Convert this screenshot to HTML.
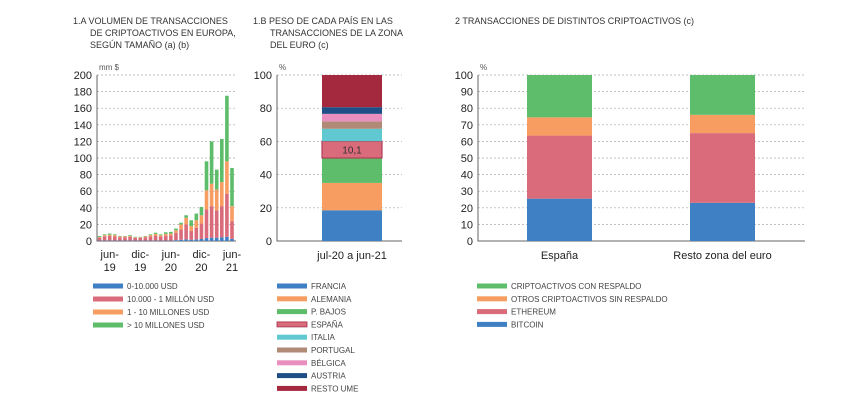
<!DOCTYPE html>
<html><head><meta charset="utf-8"><style>
body{margin:0;background:#fff;font-family:"Liberation Sans",sans-serif;}
svg text{font-family:"Liberation Sans",sans-serif;}
</style></head><body>
<svg width="850" height="415" viewBox="0 0 850 415" xmlns="http://www.w3.org/2000/svg">
<g id="titles" font-size="9" fill="#333">
<text x="73" y="24">1.A  VOLUMEN DE TRANSACCIONES</text>
<text x="90" y="36">DE CRIPTOACTIVOS EN EUROPA,</text>
<text x="90" y="48">SEGÚN TAMAÑO (a) (b)</text>
<text x="253" y="24">1.B  PESO DE CADA PAÍS EN LAS</text>
<text x="270" y="36">TRANSACCIONES DE LA ZONA</text>
<text x="270" y="48">DEL EURO (c)</text>
<text x="455" y="24">2  TRANSACCIONES DE DISTINTOS CRIPTOACTIVOS (c)</text>
</g>
<g id="c1"></g><g id="c2"></g><g id="c3"></g><g id="leg"></g>
</svg>
<script>
// Chart 1A data (mm $), monthly apr-19 .. jun-21
const c1Blue  =[0.5,0.5,0.5,0.5,0.5,0.5,0.5,0.5,0.5,0.5,0.5,0.5,0.5,0.5,0.5,1,1.5,2,1.5,2,2.5,3.5,4,4,4.5,5,2.5];
const c1Red   =[3.5,5,5.5,5,4,4,4.5,3.5,3.5,4,5,6,5,6,6.5,9,12.5,18,10.5,14,18.5,34.5,38,33,37.5,52,21.5];
const c1Orange=[1,1.5,1.5,1.5,1,1,1,0.5,0.5,1,1.5,2,1.5,2,2,3,6,8,6,9,10,23,27,25,29,39,18];
const c1Green =[1,1,1.5,1,0.5,0.5,1,0.5,0.5,0.5,1,1.5,1,2,2,2,2,3,7,8,10,35,51,24,52,79,46];
const c1Ticks=[0,20,40,60,80,100,120,140,160,180,200];
const c1XLabels=[["jun-",2],["dic-",8],["jun-",14],["dic-",20],["jun-",26]];
const c1XYears=["19","19","20","20","21"];
// Chart 1B data (%)
const c2Countries=["FRANCIA","ALEMANIA","P. BAJOS","ESPAÑA","ITALIA","PORTUGAL","BÉLGICA","AUSTRIA","RESTO UME"];
const c2Values=[18.5,16.5,15,10.1,7.5,4.5,4.5,4,19.4];
const c2Ticks=[0,20,40,60,80,100];
// Chart 2 data (%)
const c3Cats=["España","Resto zona del euro"];
const c3Bitcoin=[25.5,23];
const c3Ether=[38,42];
const c3Otros=[11,11];
const c3Resp=[25.5,24];
const c3Ticks=[0,10,20,30,40,50,60,70,80,90,100];

const NS="http://www.w3.org/2000/svg";
function mk(p,t,a){const e=document.createElementNS(NS,t);for(const k in a)e.setAttribute(k,a[k]);p.appendChild(e);return e;}
const BLUE="#3f7fc4",RED="#d96b7a",ORANGE="#f79d61",GREEN="#5dbd6b";
const Y0=241,Y1=75;

function axes(g,x0,x1,max,ticks,unit,name){
  const y=v=>Y0-(v/max)*(Y0-Y1);
  ticks.forEach(t=>{
    if(t>0){const l=mk(g,'line',{x1:x0,x2:x1,y1:y(t),y2:y(t),stroke:'#aaa','stroke-dasharray':'2,2','stroke-width':0.7});
    
    }
    const tx=mk(g,'text',{x:x0-5,y:y(t)+4,'text-anchor':'end','font-size':11,fill:'#222'});
    tx.textContent=t;
    
    
  });
  const u=mk(g,'text',{x:x0+2,y:Y1-5,'font-size':8,fill:'#555'});u.textContent=unit;
  
  
  const a=mk(g,'path',{d:`M${x0},${Y1} V${Y0} H${x1}`,stroke:'#666',fill:'none','stroke-width':1});
  
  
  return y;
}
// Chart 1
(function(){
  const g=document.getElementById('c1');
  const x0=97,x1=236;
  const y=axes(g,x0,x1,200,c1Ticks,'mm $','chart-1a');
  const step=(232-99.5)/(c1Blue.length-1);
  const xc=i=>99.5+i*step;
  const ser=[[c1Blue,BLUE],[c1Red,RED],[c1Orange,ORANGE],[c1Green,GREEN]];
  for(let i=0;i<c1Blue.length;i++){
    let cum=0;
    ser.forEach(([arr,c])=>{
      const r=mk(g,'rect',{x:xc(i)-1.8,width:3.6,y:y(cum+arr[i]),height:y(cum)-y(cum+arr[i]),fill:c});
      
      
      cum+=arr[i];
    });
  }
  c1XLabels.forEach(([l,i],k)=>{
    [l,c1XYears[k]].forEach((s,j)=>{
      const t=mk(g,'text',{x:xc(i),y:258+j*13,'text-anchor':'middle','font-size':11,fill:'#222'});
      t.textContent=s;
      
      
    });
  });
})();
// Chart 1B
const c2Colors=[BLUE,ORANGE,GREEN,RED,"#5fc8d0","#b08a76","#e98fbf","#1e4e86","#a4283e"];
(function(){
  const g=document.getElementById('c2');
  const y=axes(g,277,402,100,c2Ticks,'%','chart-1b');
  let cum=0;
  c2Values.forEach((v,i)=>{
    const a={x:322,width:60,y:y(cum+v),height:y(cum)-y(cum+v),fill:c2Colors[i]};
    if(i===3){a.stroke='#b0405a';a['stroke-width']=1.2;}
    const r=mk(g,'rect',a);
    
    
    if(i===3){const t=mk(g,'text',{x:352,y:(y(cum)+y(cum+v))/2+4,'text-anchor':'middle','font-size':10,fill:'#333'});
      t.textContent=String(v).replace('.',',');
      
      }
    cum+=v;
  });
  const t=mk(g,'text',{x:352,y:259,'text-anchor':'middle','font-size':11,fill:'#222'});
  t.textContent='jul-20 a jun-21';
  
  
})();
// Chart 2
(function(){
  const g=document.getElementById('c3');
  const y=axes(g,478,805,100,c3Ticks,'%','chart-2');
  const xs=[527,690];
  const ser=[[c3Bitcoin,BLUE],[c3Ether,RED],[c3Otros,ORANGE],[c3Resp,GREEN]];
  c3Cats.forEach((c,i)=>{
    let cum=0;
    ser.forEach(([arr,col])=>{
      const r=mk(g,'rect',{x:xs[i],width:65,y:y(cum+arr[i]),height:y(cum)-y(cum+arr[i]),fill:col});
      
      
      cum+=arr[i];
    });
    const t=mk(g,'text',{x:xs[i]+32.5,y:259,'text-anchor':'middle','font-size':11,fill:'#222'});
    t.textContent=c;
    
    
  });
})();
// Legends
(function(){
  const g=document.getElementById('leg');
  function entry(x,y,col,label,dark){
    const r=mk(g,'rect',{x:x,y:y-2.5,width:30,height:5,fill:col,stroke:dark||'none','stroke-width':0.8});
    
    
    const t=mk(g,'text',{x:x+34,y:y+3,'font-size':8,fill:'#444'});
    t.textContent=label;
    
    
  }
  const l1=[["0-10.000 USD",BLUE],["10.000 - 1 MILLÓN USD",RED],["1 - 10 MILLONES USD",ORANGE],["> 10 MILLONES USD",GREEN]];
  l1.forEach((e,i)=>entry(93,286+i*13,e[1],e[0]));
  c2Countries.forEach((c,i)=>entry(277,286+i*12.8,c2Colors[i],c,i===3?'#a03048':null));
  const l3=[["CRIPTOACTIVOS CON RESPALDO",GREEN],["OTROS CRIPTOACTIVOS SIN RESPALDO",ORANGE],["ETHEREUM",RED],["BITCOIN",BLUE]];
  l3.forEach((e,i)=>entry(477,286+i*12.8,e[1],e[0]));
})();
</script>
</body></html>
